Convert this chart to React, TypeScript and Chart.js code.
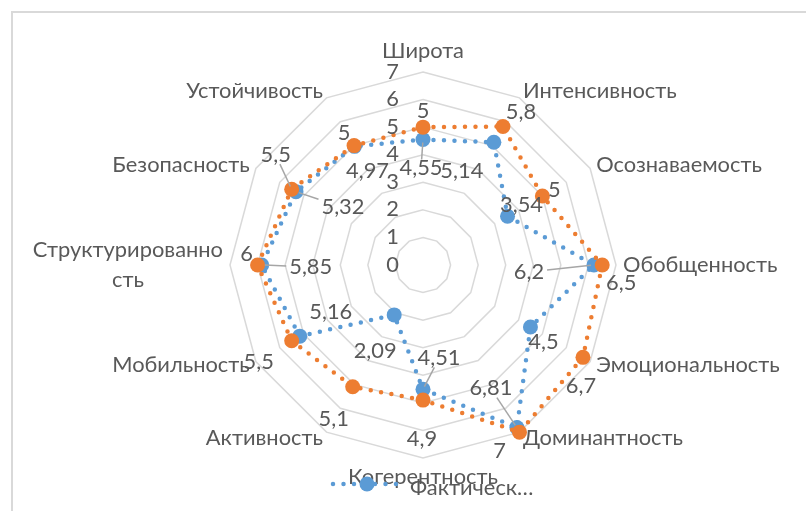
import { useEffect, useRef } from "react";
import { Chart, registerables } from "chart.js";

Chart.register(...registerables);

// ---------- data ----------
const categories = [
  "Широта",
  "Интенсивность",
  "Осознаваемость",
  "Обобщенность",
  "Эмоциональность",
  "Доминантность",
  "Когерентность",
  "Активность",
  "Мобильность",
  "Структурированность",
  "Безопасность",
  "Устойчивость",
];
// how Excel wrapped the category text
const categoryLines: string[][] = [
  ["Широта"],
  ["Интенсивность"],
  ["Осознаваемость"],
  ["Обобщенность"],
  ["Эмоциональность"],
  ["Доминантность"],
  ["Когерентность"],
  ["Активность"],
  ["Мобильность"],
  ["Структурированно", "сть"],
  ["Безопасность"],
  ["Устойчивость"],
];

const actualName = "Фактическое";
const actualValues = [4.55, 5.14, 3.54, 6.2, 4.5, 6.81, 4.51, 2.09, 5.16, 5.85, 5.32, 4.97];

const targetName = "Желаемое";
const targetValues = [5, 5.8, 5, 6.5, 6.7, 7, 4.9, 5.1, 5.5, 6, 5.5, 5];

const tickValues = [0, 1, 2, 3, 4, 5, 6, 7];

// ---------- styles ----------
const BLUE = "#5B9BD5";
const ORANGE = "#ED7D31";
const TEXT = "#595959";
const GRID = "#D9D9D9";
const LEADER = "#A6A6A6";
const FONT_FAMILY = "Lato";
const FONT_SIZE = 20.5;
const SX = 1.066; // horizontal text stretch

// data-label offsets (px, relative to each marker) and leader-line flags
const actualLabelOffsets = [
  [-2, 29], [-32, 29], [14, -11], [-65, 7], [13, 15], [-26, -39],
  [16, -31], [-19, 36], [31, -24], [49, 2], [47, 16], [13, 25],
];
const actualLeaders = [1, 0, 0, 1, 0, 1, 1, 0, 0, 1, 1, 0];
const targetLabelOffsets = [
  [0, -16], [18, -14], [12, -6], [19, 18], [-2, 29], [-20, 19],
  [-1, 39], [-19, 33], [-33, 22], [-11, -11], [-16, -34], [-10, -12],
];
const targetLeaders = [0, 0, 0, 0, 0, 0, 0, 0, 0, 0, 1, 0];

function fmt(v: number) {
  return String(v).replace(".", ",");
}

function textWidth(ctx: CanvasRenderingContext2D, s: string) {
  return ctx.measureText(s).width * SX;
}

function drawText(
  ctx: CanvasRenderingContext2D,
  s: string,
  x: number,
  y: number,
  align: CanvasTextAlign
) {
  ctx.save();
  ctx.translate(x, y);
  ctx.scale(SX, 1);
  ctx.textAlign = align;
  ctx.textBaseline = "middle";
  ctx.fillText(s, 0, 0);
  ctx.restore();
}

const framePlugin = {
  id: "frame",
  beforeDraw(chart: any) {
    const ctx: CanvasRenderingContext2D = chart.ctx;
    ctx.save();
    ctx.fillStyle = "#ffffff";
    ctx.fillRect(0, 0, chart.width, chart.height);
    ctx.strokeStyle = GRID;
    ctx.lineWidth = 2;
    ctx.beginPath();
    ctx.moveTo(12, chart.height + 5);
    ctx.lineTo(12, 12);
    ctx.lineTo(chart.width + 5, 12);
    ctx.stroke();
    ctx.restore();
  },
};

const labelsPlugin = {
  id: "excelLabels",
  afterDatasetsDraw(chart: any) {
    const ctx: CanvasRenderingContext2D = chart.ctx;
    const scale = chart.scales.r;
    const cx = scale.xCenter;
    const cy = scale.yCenter;
    const R = scale.drawingArea;
    ctx.save();
    ctx.font = `${FONT_SIZE}px ${FONT_FAMILY}`;
    ctx.fillStyle = TEXT;

    // tick labels
    tickValues.forEach((v) => {
      const r = scale.getDistanceFromCenterForValue(v);
      drawText(ctx, String(v), cx - 24, cy - r, "right");
    });

    // category labels
    const n = categories.length;
    for (let i = 0; i < n; i++) {
      const angleDeg = (360 / n) * i;
      const p = scale.getPointPosition(i, R + 7);
      const lines = categoryLines[i];
      const lh = 30;
      if (angleDeg === 0) {
        drawText(ctx, lines[0], p.x, p.y - 14, "center");
      } else if (angleDeg === 180) {
        drawText(ctx, lines[0], p.x, p.y + 12, "center");
      } else {
        const right = angleDeg < 180;
        const maxW = Math.max(...lines.map((l) => textWidth(ctx, l)));
        lines.forEach((l, k) => {
          const y = p.y + (k - (lines.length - 1) / 2) * lh;
          if (lines.length > 1) {
            const xc = right ? p.x + maxW / 2 : p.x - maxW / 2;
            drawText(ctx, l, xc, y, "center");
          } else {
            drawText(ctx, l, p.x, y, right ? "left" : "right");
          }
        });
      }
    }

    // data labels
    const sets = [
      { idx: 0, values: actualValues, offs: actualLabelOffsets, leaders: actualLeaders },
      { idx: 1, values: targetValues, offs: targetLabelOffsets, leaders: targetLeaders },
    ];
    sets.forEach((s) => {
      const meta = chart.getDatasetMeta(s.idx);
      meta.data.forEach((pt: any, j: number) => {
        const txt = fmt(s.values[j]);
        const lx = pt.x + s.offs[j][0];
        const ly = pt.y + s.offs[j][1];
        if (s.leaders[j]) {
          const hw = textWidth(ctx, txt) / 2 + 3;
          const hh = 9;
          const dx = pt.x - lx;
          const dy = pt.y - ly;
          const t = Math.min(
            dx !== 0 ? hw / Math.abs(dx) : Infinity,
            dy !== 0 ? hh / Math.abs(dy) : Infinity
          );
          const sxp = lx + dx * t;
          const syp = ly + dy * t;
          const len = Math.hypot(dx, dy) || 1;
          const ex = pt.x - (dx / len) * 3;
          const ey = pt.y - (dy / len) * 3;
          ctx.save();
          ctx.strokeStyle = LEADER;
          ctx.lineWidth = 1.5;
          ctx.beginPath();
          ctx.moveTo(sxp, syp);
          ctx.lineTo(ex, ey);
          ctx.stroke();
          ctx.restore();
        }
        drawText(ctx, txt, lx, ly, "center");
      });
    });

    // legend (only the first entry is visible in the original)
    const ly = 484;
    ctx.save();
    ctx.strokeStyle = BLUE;
    ctx.lineWidth = 4.5;
    ctx.lineCap = "round";
    ctx.setLineDash([0, 10.5]);
    ctx.beginPath();
    ctx.moveTo(333, ly);
    ctx.lineTo(402, ly);
    ctx.stroke();
    ctx.setLineDash([]);
    ctx.fillStyle = BLUE;
    ctx.beginPath();
    ctx.arc(367, ly, 7.5, 0, Math.PI * 2);
    ctx.fill();
    ctx.restore();
    const legendText = chart.data.datasets[0].label.slice(0, 9) + "…";
    drawText(ctx, legendText, 410, ly + 4, "left");

    ctx.restore();
  },
};

export default function App() {
  const ref = useRef<HTMLCanvasElement | null>(null);

  useEffect(() => {
    if (!ref.current) return;
    const chart = new Chart(ref.current, {
      type: "radar",
      data: {
        labels: categories,
        datasets: [
          {
            label: actualName,
            data: actualValues,
            borderColor: BLUE,
            backgroundColor: BLUE,
            pointBackgroundColor: BLUE,
            pointBorderColor: BLUE,
            borderWidth: 4.5,
            borderDash: [0, 10.5],
            borderCapStyle: "round",
            pointRadius: 7.5,
            pointHoverRadius: 7.5,
            pointBorderWidth: 0,
            fill: false,
            order: 1,
          },
          {
            label: targetName,
            data: targetValues,
            borderColor: ORANGE,
            backgroundColor: ORANGE,
            pointBackgroundColor: ORANGE,
            pointBorderColor: ORANGE,
            borderWidth: 4.5,
            borderDash: [0, 10.5],
            borderCapStyle: "round",
            pointRadius: 7.5,
            pointHoverRadius: 7.5,
            pointBorderWidth: 0,
            fill: false,
            order: 0,
          },
        ],
      },
      options: {
        responsive: false,
        animation: false,
        devicePixelRatio: 1,
        events: [],
        layout: { padding: { left: 230, right: 190, top: 72, bottom: 53 } },
        plugins: {
          legend: { display: false },
          tooltip: { enabled: false },
        },
        scales: {
          r: {
            min: 0,
            max: 7,
            ticks: { display: false, stepSize: 1 },
            grid: { color: GRID, lineWidth: 1.5 },
            angleLines: { display: false },
            pointLabels: { display: false },
          },
        },
      },
      plugins: [framePlugin, labelsPlugin],
    } as any);
    return () => chart.destroy();
  }, []);

  return (
    <div style={{ position: "fixed", left: 0, top: 0, width: 806, height: 511, overflow: "hidden" }}>
      <canvas ref={ref} width={806} height={511} style={{ width: 806, height: 511, display: "block" }} />
    </div>
  );
}
